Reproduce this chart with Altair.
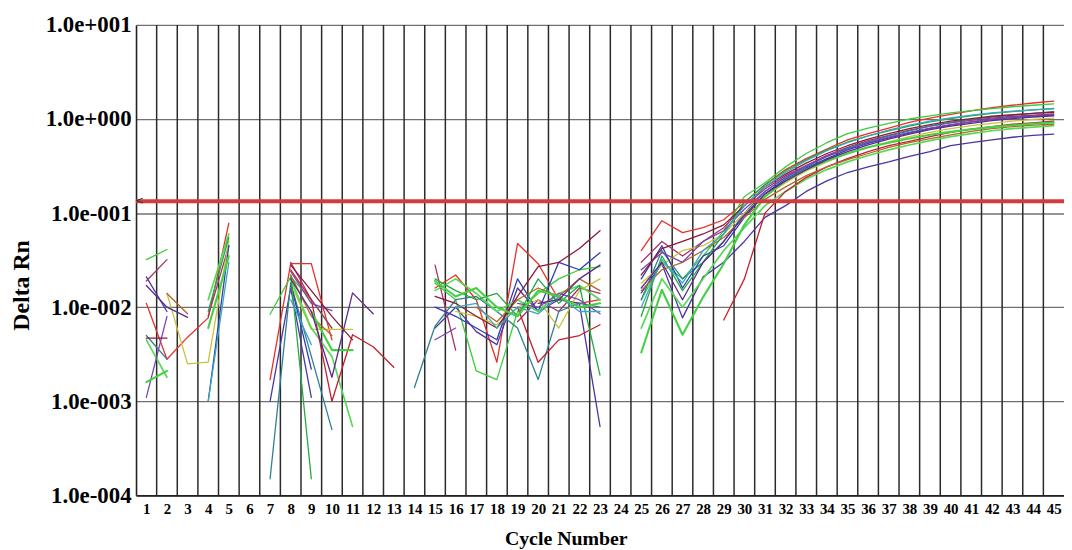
import altair as alt
import pandas as pd

N = None
CYCLES = list(range(1, 46))

# Delta Rn per cycle (None = no plotted value)
red_a = [0.011, 0.0028, 0.0048, 0.0077, 0.078, N, 0.0017, 0.029, 0.029, 0.0045, N, N,
         N, N, 0.016, 0.022, 0.012, 0.0026, 0.0475, 0.029, 0.012, 0.011, 0.012, N,
         0.040, 0.083, 0.062, 0.070, 0.085, 0.13, 0.20, 0.29, 0.38, 0.48, 0.60, 0.70, 0.80, 0.92, 1.02, 1.12, 1.22, 1.32, 1.40, 1.48, 1.55]
green_a = [0.032, 0.041, N, N, N, N, 0.0084, 0.021, 0.012, 0.006, N, N,
           N, N, 0.018, 0.012, 0.0021, 0.0017, 0.009, 0.014, 0.020, 0.025, 0.027, N,
           0.012, 0.030, 0.020, 0.035, 0.065, 0.15, 0.21, 0.31, 0.43, 0.56, 0.70, 0.80, 0.90, 1.00, 1.08, 1.16, 1.23, 1.29, 1.35, 1.40, 1.45]
purple_a = [0.021, 0.009, N, N, N, N, 0.001, 0.016, 0.0011, N, N, N,
            N, N, 0.006, 0.010, 0.0055, 0.004, 0.016, 0.009, 0.012, 0.011, 0.00054, N,
            0.0142, 0.029, 0.0077, 0.021, 0.030, 0.050, 0.090, 0.12, 0.17, 0.22, 0.27, 0.31, 0.35, 0.40, 0.45, 0.52, 0.56, 0.60, 0.64, 0.67, 0.69]
magenta = [0.019, 0.032, N, 0.008, 0.045, N, N, 0.030, 0.012, 0.006, N, N,
           N, N, 0.028, 0.0035, N, N, 0.007, 0.012, 0.009, 0.016, 0.014, N,
           0.030, 0.050, 0.035, 0.050, 0.070, 0.12, 0.18, 0.25, 0.32, 0.41, 0.50, 0.59, 0.67, 0.76, 0.84, 0.91, 0.97, 1.02, 1.07, 1.10, 1.13]
teal = [0.005, 0.0028, N, N, N, N, 0.00015, 0.018, 0.003, 0.0005, N, N,
        N, 0.0014, 0.0063, 0.012, 0.013, 0.009, 0.006, 0.0017, 0.009, 0.011, 0.010, N,
        0.012, 0.040, 0.020, 0.030, 0.050, 0.10, 0.17, 0.24, 0.31, 0.40, 0.49, 0.57, 0.66, 0.75, 0.84, 0.92, 0.99, 1.05, 1.10, 1.15, 1.20]
olive = [N, 0.014, 0.0025, 0.0026, 0.050, N, N, 0.018, 0.0058, 0.0058, 0.0058, N,
         N, N, N, 0.009, 0.008, 0.0065, 0.010, 0.012, 0.006, 0.015, 0.020, N,
         0.018, 0.028, 0.040, 0.045, 0.060, 0.10, 0.15, 0.21, 0.28, 0.35, 0.43, 0.50, 0.57, 0.65, 0.72, 0.79, 0.85, 0.90, 0.95, 0.99, 1.02]
blue = [N, N, N, 0.001, 0.045, N, N, 0.018, 0.0022, N, N, N,
        N, N, 0.010, 0.008, 0.006, 0.0045, 0.020, 0.009, 0.030, 0.025, 0.038, N,
        0.020, 0.045, 0.016, 0.035, 0.045, 0.09, 0.16, 0.23, 0.30, 0.38, 0.47, 0.55, 0.63, 0.71, 0.79, 0.86, 0.93, 0.99, 1.04, 1.08, 1.10]
green_b = [0.0045, 0.0018, N, 0.012, 0.060, N, N, 0.020, 0.006, 0.003, 0.00054, N,
           N, N, 0.015, 0.020, 0.014, 0.009, 0.012, 0.009, 0.014, 0.017, 0.012, N,
           0.006, 0.020, 0.010, 0.020, 0.040, 0.07, 0.12, 0.17, 0.23, 0.29, 0.35, 0.41, 0.47, 0.53, 0.59, 0.65, 0.70, 0.75, 0.79, 0.82, 0.85]
red_b = [N, N, N, N, N, N, N, 0.025, 0.012, 0.001, 0.0051, 0.0038,
         0.0023, N, N, N, N, N, 0.010, 0.0026, 0.0045, 0.005, 0.0065, N,
         N, N, N, N, 0.0073, 0.020, 0.10, 0.17, 0.24, 0.31, 0.38, 0.45, 0.52, 0.58, 0.65, 0.72, 0.78, 0.83, 0.88, 0.91, 0.95]
brown = [N, 0.014, 0.0085, N, N, N, N, 0.022, 0.008, 0.005, N, N,
         N, N, N, N, 0.010, 0.007, 0.012, 0.016, 0.013, 0.020, 0.015, N,
         0.015, 0.025, 0.030, 0.040, 0.055, 0.09, 0.14, 0.19, 0.25, 0.31, 0.37, 0.43, 0.50, 0.56, 0.62, 0.68, 0.74, 0.79, 0.83, 0.86, 0.88]
green_c = [N, N, N, 0.009, 0.055, N, N, 0.022, 0.00015, N, N, N,
           N, N, 0.020, 0.015, 0.012, 0.014, 0.008, 0.020, 0.011, 0.017, 0.0019, N,
           0.008, 0.035, 0.015, 0.030, 0.060, 0.13, 0.20, 0.28, 0.37, 0.47, 0.57, 0.66, 0.75, 0.84, 0.93, 1.01, 1.08, 1.15, 1.20, 1.25, 1.30]
violet = [0.0011, 0.008, N, N, N, N, N, 0.024, 0.011, 0.0092, N, N,
          N, N, 0.0045, 0.006, N, N, 0.011, 0.010, 0.014, 0.012, 0.0085, N,
          0.025, 0.038, 0.030, 0.050, 0.065, 0.11, 0.17, 0.24, 0.32, 0.40, 0.48, 0.56, 0.64, 0.72, 0.80, 0.87, 0.93, 0.99, 1.04, 1.08, 1.12]
darkred = [0.0047, 0.0047, N, N, N, N, N, 0.028, 0.015, 0.008, 0.0045, N,
           N, N, 0.013, 0.011, 0.008, 0.006, 0.013, 0.027, 0.030, 0.042, 0.065, N,
           0.022, 0.042, 0.050, 0.060, 0.075, 0.12, 0.19, 0.26, 0.34, 0.43, 0.52, 0.61, 0.70, 0.79, 0.87, 0.95, 1.01, 1.07, 1.11, 1.15, 1.18]
cyan = [N, N, N, 0.001, 0.030, N, N, 0.012, 0.004, N, N, N,
        N, N, N, 0.010, 0.011, 0.006, 0.010, 0.0085, 0.013, 0.009, 0.009, N,
        0.010, 0.032, 0.018, 0.040, 0.060, 0.12, 0.19, 0.27, 0.36, 0.46, 0.56, 0.66, 0.76, 0.86, 0.95, 1.03, 1.10, 1.16, 1.21, 1.25, 1.28]
green_d = [0.0016, 0.0021, N, 0.006, 0.035, N, N, N, 0.009, 0.0035, 0.0035, N,
           N, N, 0.019, 0.013, 0.016, 0.010, 0.008, 0.015, 0.013, 0.010, 0.011, N,
           0.0033, 0.0153, 0.0051, 0.0128, 0.029, 0.075, 0.15, 0.22, 0.29, 0.36, 0.43, 0.50, 0.56, 0.62, 0.68, 0.73, 0.78, 0.82, 0.86, 0.89, 0.92]
purple_b = [0.017, 0.010, 0.0078, N, N, N, N, 0.020, 0.009, 0.0018, 0.0142, 0.0085,
            N, N, N, N, N, N, N, 0.011, 0.012, 0.020, 0.028, N,
            0.016, 0.030, 0.012, 0.030, 0.050, 0.095, 0.16, 0.22, 0.29, 0.37, 0.45, 0.53, 0.61, 0.69, 0.77, 0.84, 0.90, 0.96, 1.01, 1.05, 1.08]

SERIES = {
    "red_a": red_a, "green_a": green_a, "purple_a": purple_a, "magenta": magenta,
    "teal": teal, "olive": olive, "blue": blue, "green_b": green_b, "red_b": red_b,
    "brown": brown, "green_c": green_c, "violet": violet, "darkred": darkred,
    "cyan": cyan, "green_d": green_d, "purple_b": purple_b,
}
COLORS = {
    "red_a": "#e8302a", "green_a": "#3ccc3c", "purple_a": "#4b36a0", "magenta": "#a8306e",
    "teal": "#2f8090", "olive": "#c8c23a", "blue": "#2c3cb4", "green_b": "#58d858",
    "red_b": "#c41e2e", "brown": "#b8642a", "green_c": "#22a844", "violet": "#7d44b0",
    "darkred": "#8c1a3a", "cyan": "#3aa6c0", "green_d": "#44d044", "purple_b": "#5a2c8c",
}
WIDTHS = {k: 1.3 for k in SERIES}
WIDTHS["green_d"] = 2.1
WIDTHS["green_b"] = 1.7

THRESHOLD = 0.134
Y_TICKS = [1e-4, 1e-3, 1e-2, 1e-1, 1e0, 1e1]
Y_LABELS = ["1.0e-004", "1.0e-003", "1.0e-002", "1.0e-001", "1.0e+000", "1.0e+001"]

for k, v in SERIES.items():
    if len(v) != len(CYCLES):
        raise ValueError(f"{k} has {len(v)} values")

rows = []
for name, vals in SERIES.items():
    seg = 0
    for c, v in zip(CYCLES, vals):
        if v is None:
            seg += 1
            continue
        rows.append({"series": name, "cycle": c, "value": v,
                     "seg": f"{name}-{seg}", "w": WIDTHS[name]})
df = pd.DataFrame(rows)

grid_df = pd.DataFrame({"b": [c + 0.5 for c in CYCLES[:-1]]})
thr_df = pd.DataFrame({"t": [THRESHOLD], "x": [0.66]})

label_expr = ""
for tick, lab in zip(Y_TICKS[:-1], Y_LABELS[:-1]):
    label_expr += f"datum.value < {tick * 3} ? '{lab}' : "
label_expr += f"'{Y_LABELS[-1]}'"

FONT = "Liberation Serif"
xs = alt.Scale(domain=[0.5, 45.5], nice=False, zero=False)
ys = alt.Scale(type="log", domain=[1e-4, 10], nice=False)

x_axis = alt.Axis(values=CYCLES, grid=False, ticks=False, labelFlush=False,
                  labelOverlap=False, labelFont=FONT, labelFontWeight="bold",
                  labelFontSize=15, labelColor="black", labelPadding=6,
                  domainColor="#222222", domainWidth=1.6,
                  title="Cycle Number", titleFont=FONT, titleFontWeight="bold",
                  titleFontSize=20, titleColor="black", titleX=433, titleY=44,
                  titleBaseline="middle", titleAlign="center")
y_axis = alt.Axis(values=Y_TICKS, labelExpr=label_expr, grid=True,
                  gridColor="#707070", gridWidth=1.3, ticks=False,
                  labelFont=FONT, labelFontWeight="bold", labelFontSize=23,
                  labelColor="black", labelPadding=5,
                  domainColor="#222222", domainWidth=1.6,
                  title="Delta Rn", titleFont=FONT, titleFontWeight="bold",
                  titleFontSize=24, titleColor="black", titleX=-115, titleY=262,
                  titleAngle=270, titleAlign="center", titleBaseline="middle")

grid = alt.Chart(grid_df).mark_rule(color="#2a2a2a", strokeWidth=1.5).encode(
    x=alt.X("b:Q", scale=xs, axis=x_axis)
)

lines = alt.Chart(df).mark_line(strokeCap="round", strokeJoin="round").encode(
    x=alt.X("cycle:Q", scale=xs, axis=x_axis),
    y=alt.Y("value:Q", scale=ys, axis=y_axis),
    color=alt.Color("series:N", scale=alt.Scale(domain=list(COLORS.keys()),
                                                range=list(COLORS.values())), legend=None),
    detail="seg:N",
    order="cycle:Q",
    strokeWidth=alt.StrokeWidth("w:Q", scale=None, legend=None),
)

thr = alt.Chart(thr_df).mark_rule(color="#d23c3c", strokeWidth=4).encode(
    y=alt.Y("t:Q", scale=ys, axis=y_axis)
)
arrow = alt.Chart(thr_df).mark_text(text="<", font="DejaVu Sans", fontSize=11,
                                    color="#333333", baseline="middle").encode(
    x=alt.X("x:Q", scale=xs, axis=x_axis),
    y=alt.Y("t:Q", scale=ys, axis=y_axis),
)

chart = alt.layer(grid, lines, thr, arrow).properties(
    width=935, height=474,
    padding={"left": 129, "top": 15, "right": 0, "bottom": 53},
    autosize=alt.AutoSizeParams(type="none"),
    background="white",
).configure_view(stroke=None)

chart.save("out.html", embed_options={"renderer": "svg", "actions": False})
